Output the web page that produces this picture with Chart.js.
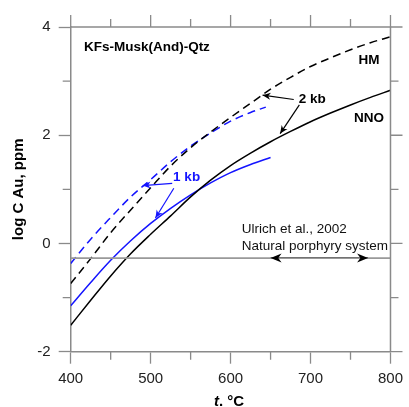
<!DOCTYPE html>
<html>
<head>
<meta charset="utf-8">
<script src="https://cdn.jsdelivr.net/npm/chart.js@4.4.1/dist/chart.umd.min.js"></script>
<style>
    html, body { margin: 0; padding: 0; background: #fff; }
    #wrap { width: 409px; height: 407px; position: relative; }
</style>
</head>
<body>
<div id="wrap"><canvas id="chart"></canvas></div>
<script>
// --- 데이터 ---
// 온도 (°C), 2 kb 곡선
const temp2kb = [400, 425, 450, 475, 500, 525, 550, 575, 600, 625, 650, 675, 700, 725, 750, 775, 800];
// log C Au (ppm), 2 kb, NNO 완충제
const nno2kb = [-1.51, -1.05, -0.60, -0.19, 0.17, 0.51, 0.86, 1.17, 1.44, 1.67, 1.88, 2.07, 2.25, 2.41, 2.56, 2.70, 2.83];
// log C Au (ppm), 2 kb, HM 완충제
const hm2kb = [-0.74, -0.28, 0.20, 0.62, 1.03, 1.43, 1.77, 2.06, 2.33, 2.59, 2.85, 3.07, 3.27, 3.43, 3.58, 3.71, 3.82];

// 1 kb 곡선
const tempHm1kb = [400, 425, 450, 475, 500, 525, 550, 575, 600, 625, 644];
const hm1kb = [-0.37, 0.08, 0.48, 0.86, 1.18, 1.51, 1.80, 2.04, 2.26, 2.42, 2.52];
const tempNno1kb = [400, 425, 450, 475, 500, 525, 550, 575, 600, 625, 650];
const nno1kb = [-1.15, -0.72, -0.31, 0.05, 0.37, 0.65, 0.90, 1.12, 1.31, 1.46, 1.59];

// Ulrich et al. (2002) 자연 반암 시스템
const refLevel = -0.27;
const refRange = [650, 772];

// 축 눈금
const xTicks = [400, 500, 600, 700, 800];
const yTicks = [-2, 0, 2, 4];

const FONT = "'Liberation Sans', Arial, sans-serif";
const BLUE = "#1414ff";
const AXIS = "#8a8a8a";

function toPoints(xs, ys) {
    return xs.map((x, i) => ({ x: x, y: ys[i] }));
}

function curve(data, color, dash) {
    return {
        data: data,
        borderColor: color,
        borderWidth: 1.5,
        borderDash: dash || [],
        pointRadius: 0,
        showLine: true,
        cubicInterpolationMode: "monotone",
        fill: false
    };
}

// 화살촉 (끝점 x1,y1 방향)
function arrowHead(ctx, x0, y0, x1, y1, len, half) {
    const ang = Math.atan2(y1 - y0, x1 - x0);
    ctx.save();
    ctx.translate(x1, y1);
    ctx.rotate(ang);
    ctx.beginPath();
    ctx.moveTo(0, 0);
    ctx.lineTo(-len, -half);
    ctx.lineTo(-len * 0.7, 0);
    ctx.lineTo(-len, half);
    ctx.closePath();
    ctx.fill();
    ctx.restore();
}

function arrow(ctx, sx, sy, ex, ey, color) {
    ctx.strokeStyle = color;
    ctx.fillStyle = color;
    ctx.lineWidth = 1.2;
    ctx.beginPath();
    ctx.moveTo(sx, sy);
    ctx.lineTo(ex, ey);
    ctx.stroke();
    arrowHead(ctx, sx, sy, ex, ey, 8, 3.5);
}

// 보조 눈금, 위/오른쪽 테두리, 주석
const decorPlugin = {
    id: "decor",
    afterDatasetsDraw(chart) {
        const ctx = chart.ctx;
        const a = chart.chartArea;
        const xs = chart.scales.x;
        const ys = chart.scales.y;
        const px = v => xs.getPixelForValue(v);
        const py = v => ys.getPixelForValue(v);

        ctx.save();
        // 테두리
        ctx.strokeStyle = AXIS;
        ctx.lineWidth = 1.5;
        ctx.beginPath();
        ctx.moveTo(a.left, a.top);
        ctx.lineTo(a.right, a.top);
        ctx.lineTo(a.right, a.bottom);
        ctx.stroke();

        ctx.lineWidth = 1.3;
        ctx.beginPath();
        for (let v = 400; v <= 800; v += 50) {
            const major = v % 100 === 0;
            const len = major ? 12 : 8;
            const x = px(v);
            ctx.moveTo(x, a.top);
            ctx.lineTo(x, a.top - len);
            if (!major) {
                ctx.moveTo(x, a.bottom);
                ctx.lineTo(x, a.bottom + len);
            }
        }
        for (let v = -2; v <= 4; v += 1) {
            const major = v % 2 === 0;
            const len = major ? 12 : 8;
            const y = py(v);
            ctx.moveTo(a.right, y);
            ctx.lineTo(a.right + len, y);
            if (!major) {
                ctx.moveTo(a.left, y);
                ctx.lineTo(a.left - len, y);
            }
        }
        ctx.stroke();

        // 양방향 화살표 (범위)
        ctx.fillStyle = "#000";
        const yr = py(refLevel);
        arrowHead(ctx, px(refRange[1]), yr, px(refRange[0]), yr, 11, 4.5);
        arrowHead(ctx, px(refRange[0]), yr, px(refRange[1]), yr, 11, 4.5);

        // 압력 표시 화살표
        arrow(ctx, px(679), py(2.66), px(640), py(2.74), "#000");
        arrow(ctx, px(686), py(2.56), px(662), py(2.03), "#000");
        arrow(ctx, px(527), py(1.11), px(490), py(1.07), BLUE);
        arrow(ctx, px(529), py(1.02), px(506), py(0.47), BLUE);

        // 텍스트
        ctx.textBaseline = "middle";
        ctx.font = "bold 13.5px " + FONT;
        ctx.fillStyle = "#000";
        ctx.textAlign = "left";
        ctx.fillText("KFs-Musk(And)-Qtz", px(416.5), py(3.62));
        ctx.textAlign = "center";
        ctx.fillText("HM", px(773), py(3.39));
        ctx.fillText("NNO", px(773), py(2.32));
        ctx.fillText("2 kb", px(702), py(2.67));
        ctx.fillStyle = BLUE;
        ctx.fillText("1 kb", px(545), py(1.23));

        ctx.fillStyle = "#111";
        ctx.font = "13.5px " + FONT;
        ctx.textAlign = "left";
        ctx.fillText("Ulrich et al., 2002", px(614), py(0.26));
        ctx.fillText("Natural porphyry system", px(614), py(-0.045));

        // x축 제목: t. °C
        const cx = (a.left + a.right) / 2 - 1.5;
        const ty = 401.5;
        const f1 = "italic bold 15px " + FONT;
        const f2 = "bold 15px " + FONT;
        ctx.font = f1;
        const w1 = ctx.measureText("t").width;
        ctx.font = f2;
        const w2 = ctx.measureText(". °C").width;
        let x0 = cx - (w1 + w2) / 2;
        ctx.fillStyle = "#000";
        ctx.font = f1;
        ctx.fillText("t", x0, ty);
        ctx.font = f2;
        ctx.fillText(". °C", x0 + w1, ty);
        ctx.restore();
    }
};

new Chart(document.getElementById("chart"), {
    type: "scatter",
    data: {
        datasets: [
            // 기준선
            {
                data: toPoints([400, 800], [refLevel, refLevel]),
                borderColor: "#999",
                borderWidth: 1.8,
                pointRadius: 0,
                showLine: true
            },
            {
                data: toPoints(refRange, [refLevel, refLevel]),
                borderColor: "#000",
                borderWidth: 2,
                pointRadius: 0,
                showLine: true
            },
            curve(toPoints(temp2kb, nno2kb), "#000"),
            curve(toPoints(temp2kb, hm2kb), "#000", [8, 5]),
            curve(toPoints(tempNno1kb, nno1kb), BLUE),
            curve(toPoints(tempHm1kb, hm1kb), BLUE, [8, 5])
        ]
    },
    options: {
        responsive: true,
        maintainAspectRatio: false,
        animation: false,
        events: [],
        layout: { padding: { top: 27, right: 14.7, left: 0, bottom: 0 } },
        plugins: {
            legend: { display: false },
            tooltip: { enabled: false }
        },
        scales: {
            x: {
                type: "linear",
                min: 400,
                max: 800,
                afterBuildTicks: s => { s.ticks = xTicks.map(v => ({ value: v })); },
                ticks: { color: "#222", font: { family: FONT, size: 15 }, padding: 6, maxRotation: 0 },
                grid: { drawOnChartArea: false, tickLength: 12, tickColor: AXIS, tickWidth: 1.3 },
                border: { color: AXIS, width: 1.5 },
                afterFit: s => { s.height = 55.3; }
            },
            y: {
                type: "linear",
                min: -2,
                max: 4,
                afterBuildTicks: s => { s.ticks = yTicks.map(v => ({ value: v })); },
                ticks: { color: "#222", font: { family: FONT, size: 15 }, padding: 8 },
                grid: { drawOnChartArea: false, tickLength: 12, tickColor: AXIS, tickWidth: 1.3 },
                border: { color: AXIS, width: 1.5 },
                title: {
                    display: true,
                    text: "log C Au, ppm",
                    color: "#000",
                    font: { family: FONT, size: 15, weight: "bold" },
                    padding: { top: 10 }
                },
                afterFit: s => { s.width = 70.7; }
            }
        }
    },
    plugins: [decorPlugin]
});
</script>
</body>
</html>
